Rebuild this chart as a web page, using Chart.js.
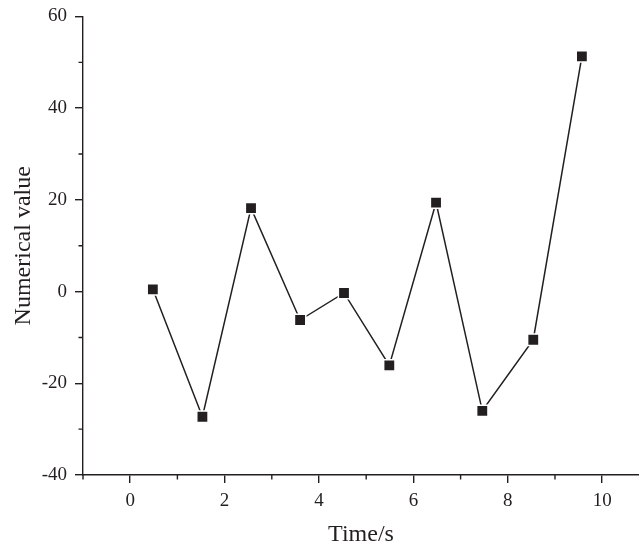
<!DOCTYPE html>
<html>
<head>
<meta charset="utf-8">
<script src="https://cdn.jsdelivr.net/npm/chart.js@4.4.1/dist/chart.umd.min.js"></script>
<style>
  html, body { margin: 0; padding: 0; background: #ffffff; }
  #wrap { width: 639px; height: 546px; }
</style>
</head>
<body>
<div id="wrap"><canvas id="c" width="639" height="546"></canvas></div>
<script>
// ---- data ----
const timeValues    = [0.48, 1.53, 2.56, 3.60, 4.53, 5.49, 6.48, 7.46, 8.54, 9.57];
const numericValues = [0.5, -27.3, 18.2, -6.2, -0.3, -16.1, 19.4, -26.0, -10.5, 51.3];
const xTickLabels   = [0, 2, 4, 6, 8, 10];
const xMinorTicks   = [-1, 1, 3, 5, 7, 9];
const yTickLabels   = [-40, -20, 0, 20, 40, 60];
const yMinorTicks   = [-30, -10, 10, 30, 50];
const xTitle = 'Time/s';
const yTitle = 'Numerical value';

const ink = '#231f20';
const serif = "'Liberation Serif', 'Times New Roman', serif";

const minorTicks = {
  id: 'minorTicks',
  afterDraw(chart) {
    const ctx = chart.ctx;
    const xs = chart.scales.x, ys = chart.scales.y;
    ctx.save();
    ctx.strokeStyle = ink;
    ctx.lineWidth = 1.4;
    ctx.beginPath();
    xMinorTicks.forEach(v => {
      const px = xs.getPixelForValue(v);
      ctx.moveTo(px, xs.top);
      ctx.lineTo(px, xs.top + 4.5);
    });
    yMinorTicks.forEach(v => {
      const py = ys.getPixelForValue(v);
      ctx.moveTo(ys.right, py);
      ctx.lineTo(ys.right - 4.5, py);
    });
    ctx.stroke();
    ctx.restore();
  }
};

new Chart(document.getElementById('c'), {
  type: 'line',
  data: {
    datasets: [{
      data: timeValues.map((t, i) => ({ x: t, y: numericValues[i] })),
      borderColor: ink,
      borderWidth: 1.5,
      pointStyle: 'rect',
      pointRadius: 8,
      pointHoverRadius: 8,
      pointBackgroundColor: ink,
      pointBorderColor: '#ffffff',
      pointBorderWidth: 1.5,
      tension: 0,
      fill: false,
      clip: false
    }]
  },
  options: {
    responsive: false,
    animation: false,
    devicePixelRatio: 1,
    layout: { autoPadding: false, padding: { top: 16.5, right: 0, bottom: 0, left: 0 } },
    plugins: { legend: { display: false }, tooltip: { enabled: false } },
    scales: {
      x: {
        type: 'linear',
        min: -1,
        max: 10.78,
        afterBuildTicks: s => { s.ticks = xTickLabels.map(v => ({ value: v })); },
        afterFit: s => { s.height = 71; s.paddingLeft = 0; s.paddingRight = 0; },
        grid: { drawOnChartArea: false, drawTicks: true, tickLength: 8, tickColor: ink, lineWidth: 1.4 },
        border: { display: true, color: ink, width: 1.4 },
        ticks: { color: ink, font: { family: serif, size: 19 }, padding: 7, maxRotation: 0, autoSkip: false },
        title: { display: true, text: xTitle, color: ink, font: { family: serif, size: 24, lineHeight: 1 }, padding: { top: 0, bottom: -1 } }
      },
      y: {
        type: 'linear',
        min: -40,
        max: 60,
        afterBuildTicks: s => { s.ticks = yTickLabels.map(v => ({ value: v })); },
        afterFit: s => { s.width = 83; s.paddingTop = 0; s.paddingBottom = 0; },
        grid: { drawOnChartArea: false, drawTicks: true, tickLength: 8, tickColor: ink, lineWidth: 1.4 },
        border: { display: true, color: ink, width: 1.4 },
        ticks: { color: ink, font: { family: serif, size: 19 }, padding: 8, autoSkip: false },
        title: { display: true, text: yTitle, color: ink, font: { family: serif, size: 24, lineHeight: 1 }, padding: { top: 12, bottom: 0 } }
      }
    }
  },
  plugins: [minorTicks]
});
</script>
</body>
</html>
